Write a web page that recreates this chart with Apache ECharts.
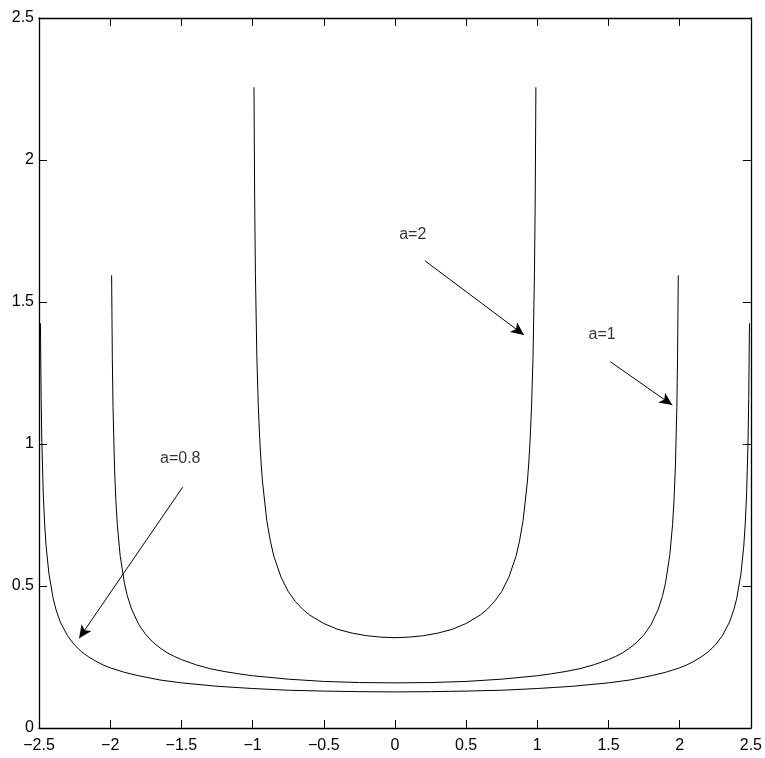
<!DOCTYPE html>
<html>
<head>
<meta charset="utf-8">
<script src="https://cdn.jsdelivr.net/npm/echarts@6/dist/echarts.min.js"></script>
<style>
  html, body { margin: 0; padding: 0; background: #fff; }
  #chart { width: 765px; height: 758px; }
</style>
</head>
<body>
<div id="chart"></div>
<script>
// curves, [x, y]
var curveA2 = [
  [-0.99, 2.256], [-0.985, 1.845], [-0.98, 1.600], [-0.97, 1.309], [-0.96, 1.137], [-0.95, 1.020],
  [-0.94, 0.933], [-0.93, 0.866], [-0.9, 0.730], [-0.875, 0.658], [-0.85, 0.604], [-0.8, 0.531],
  [-0.75, 0.481], [-0.7, 0.446], [-0.65, 0.419], [-0.6, 0.398], [-0.5, 0.368], [-0.4, 0.347],
  [-0.3, 0.334], [-0.2, 0.325], [-0.1, 0.320], [0, 0.318],
  [0.1, 0.320], [0.2, 0.325], [0.3, 0.334], [0.4, 0.347], [0.5, 0.368], [0.6, 0.398],
  [0.65, 0.419], [0.7, 0.446], [0.75, 0.481], [0.8, 0.531], [0.85, 0.604], [0.875, 0.658],
  [0.9, 0.730], [0.93, 0.866], [0.94, 0.933], [0.95, 1.020], [0.96, 1.137], [0.97, 1.309],
  [0.98, 1.600], [0.985, 1.845], [0.99, 2.256]
];
var curveA1 = [
  [-1.99, 1.594], [-1.985, 1.302], [-1.98, 1.128], [-1.97, 0.922], [-1.96, 0.800], [-1.95, 0.716],
  [-1.93, 0.607], [-1.9, 0.510], [-1.88, 0.466], [-1.85, 0.419], [-1.8, 0.365], [-1.75, 0.329],
  [-1.7, 0.302], [-1.65, 0.282], [-1.6, 0.265], [-1.55, 0.252], [-1.5, 0.241], [-1.4, 0.223],
  [-1.3, 0.209], [-1.2, 0.199], [-1.1, 0.191], [-1.0, 0.184], [-0.75, 0.172], [-0.5, 0.164],
  [-0.25, 0.160], [0, 0.159],
  [0.25, 0.160], [0.5, 0.164], [0.75, 0.172], [1.0, 0.184], [1.1, 0.191], [1.2, 0.199],
  [1.3, 0.209], [1.4, 0.223], [1.5, 0.241], [1.55, 0.252], [1.6, 0.265], [1.65, 0.282],
  [1.7, 0.302], [1.75, 0.329], [1.8, 0.365], [1.85, 0.419], [1.88, 0.466], [1.9, 0.510],
  [1.93, 0.607], [1.95, 0.716], [1.96, 0.800], [1.97, 0.922], [1.98, 1.128], [1.985, 1.302], [1.99, 1.594]
];
var curveA08 = [
  [-2.49, 1.425], [-2.485, 1.164], [-2.48, 1.009], [-2.47, 0.824], [-2.46, 0.715], [-2.45, 0.640],
  [-2.43, 0.542], [-2.4, 0.455], [-2.38, 0.416], [-2.35, 0.373], [-2.3, 0.325], [-2.25, 0.292],
  [-2.2, 0.268], [-2.15, 0.250], [-2.1, 0.235], [-2.05, 0.222], [-2.0, 0.212], [-1.9, 0.196],
  [-1.8, 0.184], [-1.65, 0.169], [-1.5, 0.159], [-1.25, 0.147], [-1.0, 0.139], [-0.75, 0.133],
  [-0.5, 0.130], [-0.25, 0.128], [0, 0.127],
  [0.25, 0.128], [0.5, 0.130], [0.75, 0.133], [1.0, 0.139], [1.25, 0.147], [1.5, 0.159],
  [1.65, 0.169], [1.8, 0.184], [1.9, 0.196], [2.0, 0.212], [2.05, 0.222], [2.1, 0.235],
  [2.15, 0.250], [2.2, 0.268], [2.25, 0.292], [2.3, 0.325], [2.35, 0.373], [2.38, 0.416],
  [2.4, 0.455], [2.43, 0.542], [2.45, 0.640], [2.46, 0.715], [2.47, 0.824], [2.48, 1.009],
  [2.485, 1.164], [2.49, 1.425]
];

// annotations: text anchor (left, middle) and arrow start/end, data coords
var noteText = ['a=2', 'a=1', 'a=0.8'];
var notePos = [[0.03, 1.736], [1.36, 1.384], [-1.65, 0.947]];
var arrowFrom = [[0.211, 1.645], [1.512, 1.290], [-1.491, 0.848]];
var arrowTo = [[0.906, 1.384], [1.948, 1.137], [-2.218, 0.316]];

var xMin = -2.5, xMax = 2.5, xStep = 0.5;
var yMin = 0, yMax = 2.5, yStep = 0.5;

var font = 'Liberation Sans, Arial, Helvetica, sans-serif';

function fmt(v) {
  var s = String(Math.round(v * 10) / 10);
  return s.replace('-', '\u2212');
}

function frameAxis(pos, isX, labels) {
  return {
    type: 'value',
    position: pos,
    min: isX ? xMin : yMin,
    max: isX ? xMax : yMax,
    interval: isX ? xStep : yStep,
    axisLine: { show: true, onZero: false, lineStyle: { color: '#000', width: 1.3 } },
    axisTick: { show: true, inside: true, length: 8, lineStyle: { color: '#000', width: 1 } },
    splitLine: { show: false },
    axisLabel: {
      show: labels,
      color: '#000',
      fontSize: 16,
      fontFamily: font,
      margin: isX ? 10 : 5,
      formatter: fmt
    }
  };
}

var marks = [];
for (var i = 0; i < arrowFrom.length; i++) {
  marks.push([{ coord: arrowFrom[i] }, { coord: arrowTo[i] }]);
}
var notes = [];
for (var j = 0; j < noteText.length; j++) {
  notes.push({ value: notePos[j], name: noteText[j] });
}

function curve(name, data) {
  return {
    name: name,
    type: 'line',
    data: data,
    showSymbol: false,
    symbol: 'none',
    smooth: false,
    lineStyle: { color: '#000', width: 1 },
    silent: true
  };
}

var chart = echarts.init(document.getElementById('chart'), null, { renderer: 'canvas' });
chart.setOption({
  animation: false,
  backgroundColor: '#fff',
  grid: { left: 39, right: 11, top: 18, bottom: 30, containLabel: false },
  xAxis: [frameAxis('bottom', true, true), frameAxis('top', true, false)],
  yAxis: [frameAxis('left', false, true), frameAxis('right', false, false)],
  series: [
    curve('a=0.8', curveA08),
    curve('a=1', curveA1),
    curve('a=2', curveA2),
    {
      name: 'notes',
      type: 'scatter',
      data: notes,
      symbolSize: 0,
      silent: true,
      label: {
        show: true,
        position: 'right',
        distance: 0,
        formatter: function(p) { return p.name; },
        color: '#000',
        fontSize: 16,
        fontFamily: font
      },
      markLine: {
        silent: true,
        symbol: ['none', 'arrow'],
        symbolSize: [9, 13],
        label: { show: false },
        lineStyle: { color: '#000', width: 1, type: 'solid' },
        data: marks
      }
    }
  ]
});
window.addEventListener('resize', function() { chart.resize(); });
</script>
</body>
</html>
